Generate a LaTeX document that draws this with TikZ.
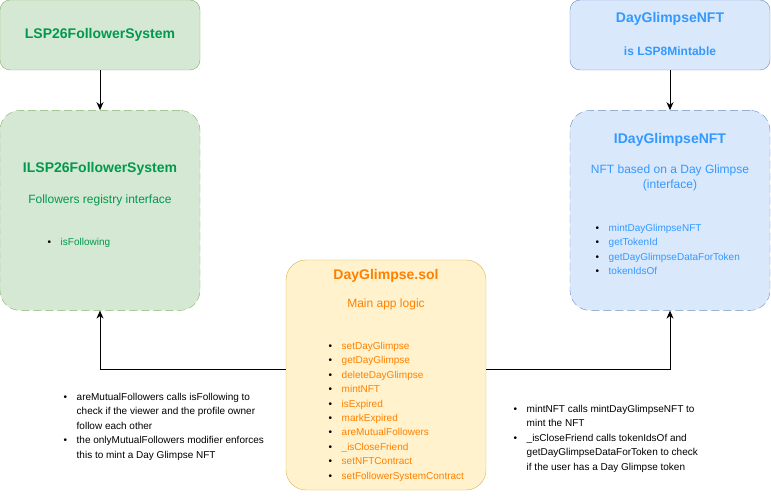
\documentclass[tikz,border=0pt]{standalone}
\usepackage{fontspec}
\setmainfont{Liberation Sans}
\usepackage{xcolor}
\usetikzlibrary{positioning, arrows.meta}

\definecolor{fsysfill}{HTML}{D5E8D4}
\definecolor{fsysline}{HTML}{82B366}
\definecolor{fsystext}{HTML}{00994D}
\definecolor{nftfill}{HTML}{DAE8FC}
\definecolor{nftline}{HTML}{6C8EBF}
\definecolor{nfttext}{HTML}{3399FF}
\definecolor{appfill}{HTML}{FFF2CC}
\definecolor{appline}{HTML}{D6B656}
\definecolor{apptext}{HTML}{FF8000}

\newcommand{\itm}{\makebox[13pt][l]{\textcolor{black}{\textbullet}}}
\newcommand{\cnt}{\makebox[13pt]{}}

\begin{document}
\begin{tikzpicture}[x=1pt, y=-1pt,
                  box/.style={rectangle,rounded corners=10pt,draw,inner sep=0pt,
                    minimum width=200pt,minimum height=70pt},
                  iface/.style={box,rounded corners=20pt,dash pattern=on 8pt off 4pt,
                    minimum height=200pt},
                  fsys/.style={fill=fsysfill,draw=fsysline},
                  nft/.style={fill=nftfill,draw=nftline},
                  app/.style={fill=appfill,draw=appline},
                  title/.style={font=\bfseries\fontsize{14}{17}\selectfont},
                  sub/.style={font=\fontsize{12}{15}\selectfont,align=center},
                  items/.style={font=\fontsize{10}{14.4}\selectfont,align=left,
                    inner sep=0pt,anchor=north west},
                  post/.style={->,line width=1pt,>={Stealth[length=8pt,width=7pt,inset=2.5pt]}}
                  ]
  \useasboundingbox (0,0) rectangle (771,502);

  % follower system
  \node[box, fsys] (LSP) at (100,35) {};
  \node[iface, fsys] (ILSP) [below=40pt of LSP] {};
  \node[title, text=fsystext] at (LSP) {LSP26FollowerSystem};
  \node[title, text=fsystext] at (100,169) {ILSP26FollowerSystem};
  \node[sub, text=fsystext] at (100,200) {Followers registry interface};
  \node[items, text=fsystext] at (47.5,238) {\itm isFollowing};

  % nft
  \node[box, nft] (NFT) at (670,35) {};
  \node[iface, nft] (INFT) [below=40pt of NFT] {};
  \node[title, text=nfttext] at (670,19) {DayGlimpseNFT};
  \node[title, text=nfttext, font=\bfseries\fontsize{12}{15}\selectfont] at (670,51) {is LSP8Mintable};
  \node[title, text=nfttext] at (670,140) {IDayGlimpseNFT};
  \node[sub, text=nfttext] at (670,177.5) {NFT based on a Day Glimpse\\(interface)};
  \node[items, text=nfttext] at (595.5,224) {\itm mintDayGlimpseNFT\\ \itm getTokenId\\
    \itm getDayGlimpseDataForToken\\ \itm tokenIdsOf};

  % main app
  \node[box, app, rounded corners=20pt, minimum height=230pt] (APP) at (386,375) {};
  \node[title, text=apptext] at (386,276) {DayGlimpse.sol};
  \node[sub, text=apptext] at (386,304) {Main app logic};
  \node[items, text=apptext] at (328.5,342) {\itm setDayGlimpse\\ \itm getDayGlimpse\\
    \itm deleteDayGlimpse\\ \itm mintNFT\\ \itm isExpired\\ \itm markExpired\\
    \itm areMutualFollowers\\ \itm \_isCloseFriend\\ \itm setNFTContract\\
    \itm setFollowerSystemContract};

  % notes
  \node[items] at (63.5,393) {\itm areMutualFollowers calls isFollowing to\\
    \cnt check if the viewer and the profile owner\\ \cnt follow each other\\
    \itm the onlyMutualFollowers modifier enforces\\ \cnt this to mint a Day Glimpse NFT};
  \node[items] at (513.5,405) {\itm mintNFT calls mintDayGlimpseNFT to\\ \cnt mint the NFT\\
    \itm \_isCloseFriend calls tokenIdsOf and\\ \cnt getDayGlimpseDataForToken to check\\
    \cnt if the user has a Day Glimpse token};

  \draw[post] (LSP) -- (ILSP);
  \draw[post] (NFT) -- (INFT);
  \draw[post] ([yshift=5pt]APP.west) -| (ILSP.south);
  \draw[post] ([yshift=5pt]APP.east) -| (INFT.south);
\end{tikzpicture}
\end{document}
